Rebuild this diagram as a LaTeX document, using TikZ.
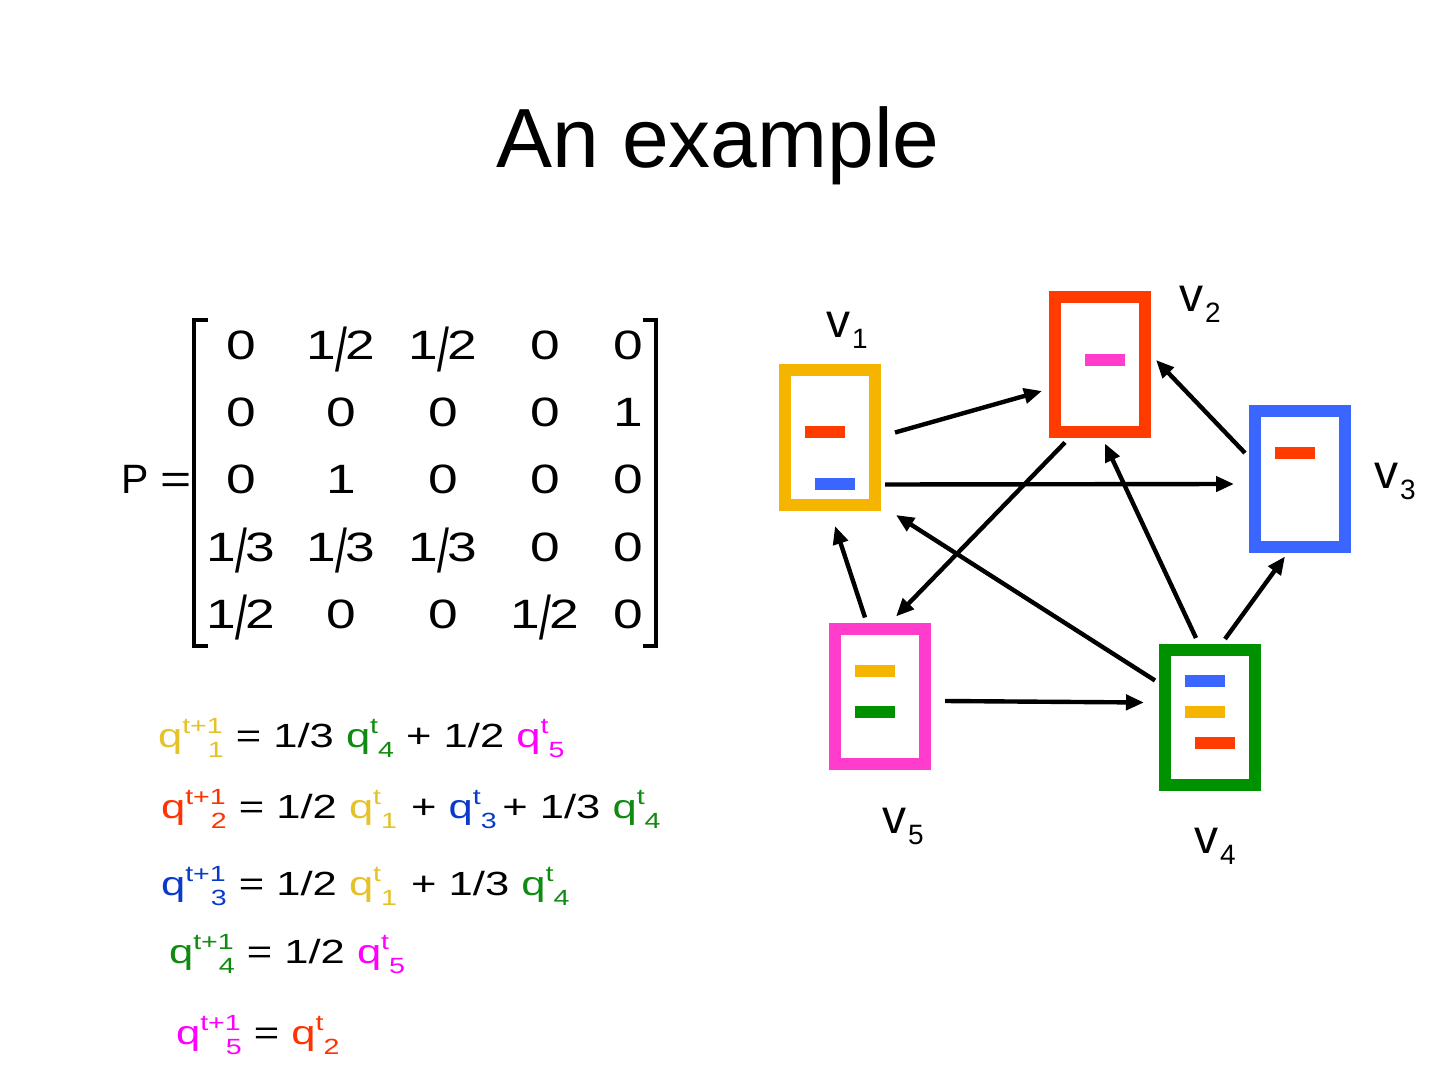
\documentclass[tikz,border=0pt]{standalone}
\usepackage{fontspec}
\usepackage{graphicx}
\usetikzlibrary{arrows.meta}
\setmainfont{Liberation Sans}
\newfontfamily\wfont{Liberation Sans}[FakeStretch=1.3]

\definecolor{vyellow}{HTML}{F4B400}
\definecolor{vred}{HTML}{FF3B00}
\definecolor{vblue}{HTML}{3A66FF}
\definecolor{vgreen}{HTML}{009100}
\definecolor{vpink}{HTML}{FF3CCC}
\definecolor{qyellow}{HTML}{E6C229}
\definecolor{qred}{HTML}{FF3300}
\definecolor{qblue}{HTML}{0A3ACC}
\definecolor{qgreen}{HTML}{118A11}
\definecolor{qmag}{HTML}{FF00FF}

\newcommand{\fr}[2]{#1\kern-.03em\raisebox{-.28em}{\scalebox{0.8}[1.5]{/}}\kern-.03em#2}
\newcommand{\qsup}[1]{\raisebox{7pt}{\fontsize{11}{11}\selectfont #1}}
\newcommand{\qsub}[1]{\raisebox{-5pt}{\fontsize{11}{11}\selectfont #1}}
\newcommand{\qn}[2]{\textcolor{#1}{q\qsup{t+1}\kern-7.5pt\qsub{#2}}}
\newcommand{\qo}[2]{\textcolor{#1}{q\qsup{t}\qsub{#2}}}
\newcommand{\vl}[1]{v\kern1pt\raisebox{-5.5pt}{\fontsize{14}{14}\selectfont #1}}

\begin{document}
\begin{tikzpicture}[x=0.5pt, y=-0.5pt,
  box/.style={draw=#1, line width=6pt, minimum width=45pt, minimum height=67.5pt, inner sep=0pt},
  bar/.style={fill=#1, minimum width=20pt, minimum height=6pt, inner sep=0pt, outer sep=0pt},
  arr/.style={-{Triangle[length=9pt,width=7.5pt]}, line width=2.2pt},
  entry/.style={anchor=base, inner sep=0pt, font=\wfont\fontsize{20.5}{24}\selectfont},
  eq/.style={anchor=base west, font=\wfont\fontsize{16.75}{20}\selectfont},
  vlab/.style={anchor=base west, font=\fontsize{24}{28}\selectfont}]

  \useasboundingbox (0,0) rectangle (1440,1080);
  \fill[white] (0,0) rectangle (1440,1080);

  \node[anchor=base, font=\fontsize{42}{50}\selectfont] (title) at (718,168) {An example};

  %% the matrix P
  \node[anchor=base west, inner sep=0pt, font=\fontsize{20.5}{24}\selectfont] (peq) at (121,494) {P {\wfont =}};
  \foreach \row [count=\r] in {{0,\fr{1}{2},\fr{1}{2},0,0},{0,0,0,0,1},{0,1,0,0,0},
      {\fr{1}{3},\fr{1}{3},\fr{1}{3},0,0},{\fr{1}{2},0,0,\fr{1}{2},0}} {
    \foreach \e [count=\c] in \row {
      \pgfmathsetmacro\xx{{241,341,443,545,628}[\c-1]}
      \pgfmathsetmacro\yy{360+67*(\r-1)}
      \node[entry] (p\r\c) at (\xx,\yy) {\e};
    }
  }
  \draw[line width=1.6pt] (208,320) -| (194,646) -- (208,646); % [
  \draw[line width=1.6pt] (643,320) -| (656,646) -- (643,646); % ]

  %% update rules
  \node[eq] (e1) at (151,747) {\qn{qyellow}{1} = 1/3 \qo{qgreen}{4} + 1/2 \qo{qmag}{5}};
  \node[eq] (e2) at (154,818) {\qn{qred}{2} = 1/2 \qo{qyellow}{1}\kern1pt\ + \qo{qblue}{3}\,+ 1/3 \qo{qgreen}{4}};
  \node[eq] (e3) at (154,895) {\qn{qblue}{3} = 1/2 \qo{qyellow}{1}\kern1pt\ + 1/3 \qo{qgreen}{4}};
  \node[eq] (e4) at (162,963) {\qn{qgreen}{4} = 1/2 \qo{qmag}{5}};
  \node[eq] (e5) at (169,1044) {\qn{qmag}{5} = \qo{qred}{2}};

  %% the graph
  \node[box=vyellow] (v1) at (830,437.5) {};
  \node[box=vred]    (v2) at (1100,365) {};
  \node[box=vblue]   (v3) at (1300,479) {};
  \node[box=vgreen]  (v4) at (1210,717.5) {};
  \node[box=vpink]   (v5) at (880,696) {};

  \node[bar=vred]    (b1a) at ([shift={(-5,-5.5)}]v1.center) {};
  \node[bar=vblue]   (b1b) at ([shift={(5,46.5)}]v1.center) {};
  \node[bar=vpink]   (b2a) at ([shift={(5,-5)}]v2.center) {};
  \node[bar=vred]    (b3a) at ([shift={(-5,-26)}]v3.center) {};
  \node[bar=vblue]   (b4a) at ([shift={(-5,-36.5)}]v4.center) {};
  \node[bar=vyellow] (b4b) at ([shift={(-5,-5.5)}]v4.center) {};
  \node[bar=vred]    (b4c) at ([shift={(5,25.5)}]v4.center) {};
  \node[bar=vyellow] (b5a) at ([shift={(-5,-25)}]v5.center) {};
  \node[bar=vgreen]  (b5b) at ([shift={(-5,16)}]v5.center) {};

  \node[vlab] (l1) at (819,338) {\vl{1}};
  \node[vlab] (l2) at (1172,312) {\vl{2}};
  \node[vlab] (l3) at (1367,488) {\vl{3}};
  \node[vlab] (l4) at (1187,853) {\vl{4}};
  \node[vlab] (l5) at (875,833) {\vl{5}};

  \draw[arr] ([shift={(14,-5)}]v1.east) -- ([shift={(-7,26)}]v2.west); %% 1->2
  \draw[arr] ([shift={(4,47)}]v1.east) -- ([shift={(-15,5)}]v3.west); %% 1->3
  \draw[arr] ([shift={(-35,4)}]v2.south) -- ([shift={(16,-6)}]v5.north); %% 2->5
  \draw[arr] ([shift={(-4,-26)}]v3.west) -- ([shift={(5,-5)}]v2.east); %% 3->2
  \draw[arr] ([shift={(-14,-6)}]v4.north) -- ([shift={(5,5)}]v2.south); %% 4->2
  \draw[arr] ([shift={(15,-5)}]v4.north) -- ([shift={(-15,4)}]v3.south); %% 4->3
  \draw[arr] ([shift={(-4,-37)}]v4.west) -- ([shift={(15,4)}]v1.south east); %% 4->1
  \draw[arr] ([shift={(-15,-5)}]v5.north) -- ([shift={(5,15)}]v1.south); %% 5->1
  \draw[arr] ([shift={(14,5)}]v5.east) -- ([shift={(-15,-15)}]v4.west); %% 5->4
\end{tikzpicture}
\end{document}
